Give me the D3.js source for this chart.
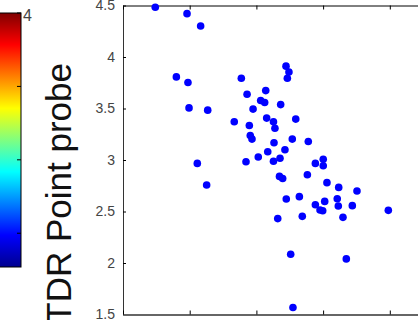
<!DOCTYPE html>
<html>
<head>
<meta charset="utf-8">
<script src="https://cdn.jsdelivr.net/npm/d3@7"></script>
<style>
  html, body { margin: 0; padding: 0; background: #fff; overflow: hidden; }
  svg { display: block; }
  text { font-family: "Liberation Sans", Arial, Helvetica, sans-serif; }
</style>
</head>
<body>
<svg id="chart" width="418" height="320"></svg>
<script>
// ---- data ----
const xValues = [1.742,1.980,2.082,1.900,1.987,1.995,2.135,2.387,2.570,2.430,
  2.532,2.562,2.682,2.475,2.334,2.577,2.628,2.447,2.639,2.454,
  2.467,2.632,2.585,2.514,2.422,2.057,2.127,2.628,2.677,2.673,
  2.697,2.660,2.722,2.744,2.732,2.795,2.769,2.889,2.714,3.001,
  2.942,3.001,2.882,3.029,3.117,3.254,2.724,2.822,2.942,3.012,
  3.106,3.114,3.219,2.977,2.997,3.489,2.844,3.149,2.757,3.174,2.774];
const yValues = [4.483,4.421,4.301,3.807,3.752,3.506,3.484,3.794,3.674,3.639,
  3.577,3.558,3.538,3.494,3.371,3.407,3.371,3.335,3.308,3.238,
  3.203,3.167,3.080,3.029,2.983,2.967,2.757,2.988,3.017,2.841,
  2.821,2.431,3.911,3.855,3.794,3.397,3.203,3.180,3.099,3.007,
  2.967,2.944,2.857,2.780,2.734,2.699,2.622,2.644,2.566,2.598,
  2.624,2.554,2.557,2.515,2.508,2.511,2.453,2.443,2.085,2.040,1.568];
const yTicks = [1.5, 2, 2.5, 3, 3.5, 4, 4.5];
const yTickLabels = ["1.5", "2", "2.5", "3", "3.5", "4", "4.5"];
const xTicks = [1.5, 2, 2.5, 3, 3.5, 4, 4.5];
const colorbarTicks = [1, 2, 3, 4];
const colorbarTickLabels = ["", "", "", "4"];
const colorbarDomain = [0.54, 4];
const yLabel = "TDR Point probe";

// ---- layout ----
const svg = d3.select("#chart");
const plotLeft = 123, plotTop = 5.5, plotBottom = 314.5;
const x = d3.scaleLinear().domain([1.5, 4.5]).range([plotLeft, plotLeft + 6 * 66.7]);
const y = d3.scaleLinear().domain([1.5, 4.5]).range([plotBottom, plotTop]);

// ---- colorbar (jet) ----
const jetStops = [
  [0, "#00008f"], [0.125, "#0000ff"], [0.375, "#00ffff"],
  [0.625, "#ffff00"], [0.875, "#ff0000"], [1, "#800000"]
];
const defs = svg.append("defs");
const grad = defs.append("linearGradient").attr("id", "jet")
  .attr("x1", 0).attr("y1", 1).attr("x2", 0).attr("y2", 0);
jetStops.forEach(s => grad.append("stop").attr("offset", s[0]).attr("stop-color", s[1]));

const cb = d3.scaleLinear().domain(colorbarDomain).range([267, 13]);
svg.append("rect")
  .attr("x", -2).attr("y", cb(colorbarDomain[1]))
  .attr("width", 23).attr("height", cb(colorbarDomain[0]) - cb(colorbarDomain[1]))
  .attr("fill", "url(#jet)")
  .attr("stroke", "#000").attr("stroke-width", 1);
svg.append("g").selectAll("line").data(colorbarTicks).join("line")
  .attr("x1", 21).attr("x2", 17)
  .attr("y1", d => cb(d)).attr("y2", d => cb(d))
  .attr("stroke", "#000").attr("stroke-width", 1);
svg.append("g").selectAll("text").data(colorbarTicks).join("text")
  .attr("x", 23).attr("y", d => cb(d) + 4)
  .attr("dominant-baseline", "middle")
  .attr("font-size", 16).attr("fill", "#444")
  .text((d, i) => colorbarTickLabels[i]);

// ---- y label ----
svg.append("text")
  .attr("transform", "translate(71,63) rotate(-90)")
  .attr("text-anchor", "end")
  .attr("font-size", 35)
  .attr("fill", "#111")
  .text(yLabel);

// ---- axes ----
const yAxis = d3.axisLeft(y).tickValues(yTicks)
  .tickFormat((d, i) => yTickLabels[i])
  .tickSizeInner(-3).tickSizeOuter(0).tickPadding(8);
const gy = svg.append("g").attr("transform", `translate(${plotLeft},0)`).call(yAxis);
gy.select(".domain").attr("stroke", "#333");
gy.selectAll(".tick line").attr("stroke", "#000");
gy.selectAll(".tick text").attr("font-size", 14).attr("fill", "#444")
  .attr("font-family", "'Liberation Sans', Arial, sans-serif");

const topAxis = d3.axisTop(x).tickValues(xTicks).tickFormat("")
  .tickSizeInner(-4).tickSizeOuter(0);
const gt = svg.append("g").attr("transform", `translate(0,${plotTop})`).call(topAxis);
gt.select(".domain").attr("stroke", "#000");
gt.selectAll(".tick line").attr("stroke", "#000");

const bottomAxis = d3.axisBottom(x).tickValues(xTicks).tickFormat("")
  .tickSizeInner(-4).tickSizeOuter(0);
const gb = svg.append("g").attr("transform", `translate(0,${plotBottom})`).call(bottomAxis);
gb.select(".domain").attr("stroke", "#666").attr("stroke-width", 2);
gb.selectAll(".tick line").attr("stroke", "#000");

// ---- points ----
svg.append("g").selectAll("circle").data(xValues.map((v, i) => [v, yValues[i]])).join("circle")
  .attr("cx", d => x(d[0])).attr("cy", d => y(d[1]))
  .attr("r", 3.8)
  .attr("fill", "#0000ff");
</script>
</body>
</html>
